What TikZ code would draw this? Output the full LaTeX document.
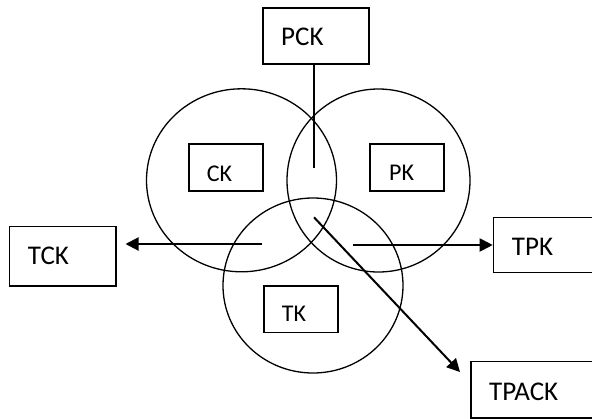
\documentclass[tikz,border=0pt]{standalone}
\usepackage{fontspec}
\setmainfont{Carlito}
\usetikzlibrary{arrows.meta,shapes.geometric}
\begin{document}
\begin{tikzpicture}[x=1pt,y=-1pt,
  box/.style={draw, line width=1.5pt, rectangle, inner sep=0pt, anchor=north west},
  venn/.style={draw, ellipse, line width=1.3pt, inner sep=0pt},
  bigtext/.style={anchor=base west, inner sep=0pt, font=\fontsize{27}{27}\selectfont},
  smalltext/.style={anchor=base west, inner sep=0pt, font=\fontsize{24}{24}\selectfont},
  link/.style={line width=2pt},
  arr/.style={line width=2pt, -{Triangle[length=13pt,width=13pt]}}]
\useasboundingbox (0,0) rectangle (592,418);
\clip (0,0) rectangle (592,418);
% circles
\node[venn, minimum width=190pt, minimum height=183pt] (cl) at (241.5,180.3) {};
\node[venn, minimum width=183pt, minimum height=183pt] (cr) at (378.5,180.5) {};
\node[venn, minimum width=180pt, minimum height=175pt] (cb) at (313,285.5) {};
% boxes
\node[box, minimum width=106pt, minimum height=56.3pt] (pck) at (262,7) {};
\node[box, minimum width=74pt, minimum height=47pt] (ck) at (188,143) {};
\node[box, minimum width=74pt, minimum height=47pt] (pk) at (369,143) {};
\node[box, minimum width=74pt, minimum height=46.7pt] (tk) at (263,285) {};
\node[box, minimum width=106.3pt, minimum height=59.3pt] (tck) at (8.7,225.7) {};
\node[box, minimum width=110pt, minimum height=55pt] (tpk) at (492.7,216.7) {};
\node[box, minimum width=130pt, minimum height=56.5pt] (tpack) at (470,360.7) {};
% texts
\node[bigtext] (pckt) at (281,45) {PCK};
\node[smalltext] (ckt) at (206.7,181) {CK};
\node[smalltext] (pkt) at (389,180.7) {PK};
\node[smalltext] (tkt) at (281.7,321.7) {TK};
\node[bigtext] (tckt) at (27.7,264) {TCK};
\node[bigtext] (tpkt) at (511.7,255) {TPK};
\node[bigtext] (tpackt) at (489,400) {TPACK};
% connector start points
\coordinate (c0) at (313.7,167.7);
\coordinate (c1) at (261.7,244);
\coordinate (c2) at (353,245);
\coordinate (c3) at (314,217.3);
% connectors
\draw[link] (pck.south -| c0) -- (c0);
\draw[arr] (c1) -- ([xshift=9pt]tck.east |- c1);
\draw[arr] (c2) -- (tpk.west |- c2);
\draw[arr] (c3) -- ([xshift=-10pt,yshift=-11.3pt]tpack.north west);
\end{tikzpicture}
\end{document}
